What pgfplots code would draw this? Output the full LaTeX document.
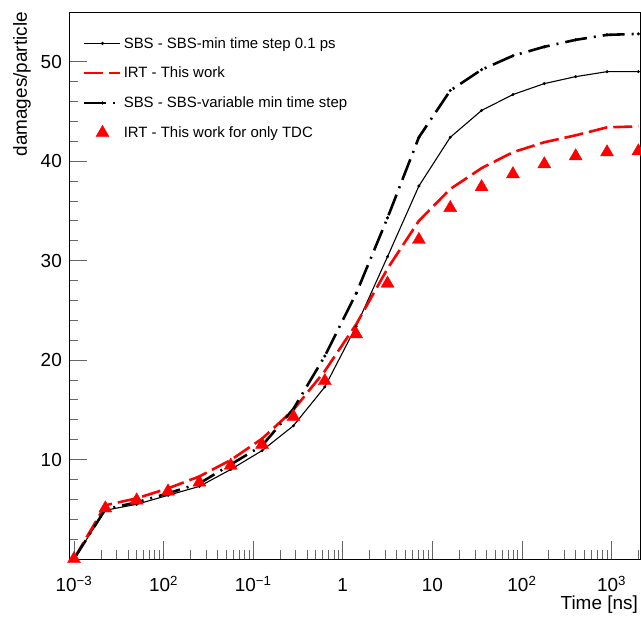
\documentclass[border=0pt]{standalone}
\usepackage{pgfplots}
\pgfplotsset{compat=1.18}
\usepackage{fontspec}
\setmainfont{Liberation Sans}

\pgfplotstableread{
t        sbs    irt    sbsvar  tdc
0.001    0.0    0.0    0.0     0.0
0.002239 4.9    5.4    5.0     5.1
0.005012 5.5    6.1    5.7     5.9
0.01122  6.4    7.1    6.6     6.8
0.02512  7.3    8.3    7.6     7.7
0.05623  9.0    9.95   9.5     9.4
0.1259   10.9   12.1   11.4    11.5
0.2818   13.4   15.0   15.1    14.3
0.631    17.3   18.9   20.4    17.9
1.413    23.4   23.6   26.7    22.6
3.162    30.4   29.2   34.3    27.7
7.079    37.5   34.0   42.4    32.1
15.85    42.4   37.2   47.1    35.3
35.48    45.1   39.3   49.2    37.4
79.43    46.7   40.9   50.6    38.7
177.8    47.8   41.9   51.5    39.7
398.1    48.5   42.6   52.2    40.5
891.3    49.0   43.4   52.7    40.9
1995     49.0   43.5   52.8    41.0
}\data

\begin{document}
\begin{tikzpicture}
\begin{axis}[
  scale only axis, width=571bp, height=547bp,
  xmode=log, xmin=0.00088, xmax=2080, ymin=0, ymax=55,
  clip=false,
  axis line style={line width=0.9bp},
  tick align=inside, xtick pos=bottom, ytick pos=left,
  major tick length=18bp, minor tick length=9bp,
  tick style={black!60, line width=0.8bp},
  xtick={0.001,0.01,0.1,1,10,100,1000},
  minor xtick={0.002,0.003,0.004,0.005,0.006,0.007,0.008,0.009,
    0.02,0.03,0.04,0.05,0.06,0.07,0.08,0.09,
    0.2,0.3,0.4,0.5,0.6,0.7,0.8,0.9,
    2,3,4,5,6,7,8,9,20,30,40,50,60,70,80,90,
    200,300,400,500,600,700,800,900,2000},
  xticklabels={10\textsuperscript{−3},10\textsuperscript{2},10\textsuperscript{−1},1,10,10\textsuperscript{2},10\textsuperscript{3}},
  ytick={0,10,20,30,40,50},
  yticklabels={,10,20,30,40,50},
  minor y tick num=4,
  /pgf/number format/assume math mode=true,
  ticklabel style={font=\fontsize{19}{22}\selectfont},
  xticklabel style={anchor=base, yshift=-33bp},
  yticklabel style={anchor=east, inner sep=0pt, xshift=-7bp},
  xlabel={Time [ns]},
  ylabel={damages/particle},
  label style={font=\fontsize{19}{22}\selectfont},
  xlabel style={at={(axis description cs:1,0)}, anchor=north east, inner sep=0pt, yshift=-37bp, xshift=-2bp},
  ylabel style={at={(axis description cs:-0.098,1)}, anchor=north east, inner sep=0pt},
  legend style={draw=none, fill=none, at={(axis description cs:0,1)}, anchor=north west,
    xshift=14bp, yshift=-23bp, font=\fontsize{15}{18}\selectfont, row sep=13.5bp, inner sep=0pt},
  legend cell align=left,
  legend image code/.code={\draw[mark repeat=2,mark phase=2,#1] plot coordinates {(0bp,0bp) (18bp,0bp) (36bp,0bp)};},
]
\addplot[black, line width=1.1bp, mark=*, mark size=0.9bp] table[x=t, y=sbs] {\data};
\addlegendentry{SBS - SBS-min time step 0.1 ps}
\addplot[red, line width=2.6bp, dash pattern=on 19bp off 6bp] table[x=t, y=irt] {\data};
\addlegendentry{IRT - This work}
\addplot[black, line width=2.6bp, dash pattern=on 22bp off 7bp on 2bp off 7bp, mark=*, mark size=1.4bp, mark options={solid, line width=0.4bp}] table[x=t, y=sbsvar] {\data};
\addlegendentry{SBS - SBS-variable min time step}
\addplot[red, only marks, mark=triangle*, mark size=7.5bp] table[x=t, y=tdc] {\data};
\addlegendentry{IRT - This work for only TDC}
\end{axis}
\pgfresetboundingbox
\path ([shift={(-69bp,-65bp)}]current axis.south west) rectangle ([shift={(1bp,12bp)}]current axis.north east);
\end{tikzpicture}
\end{document}
